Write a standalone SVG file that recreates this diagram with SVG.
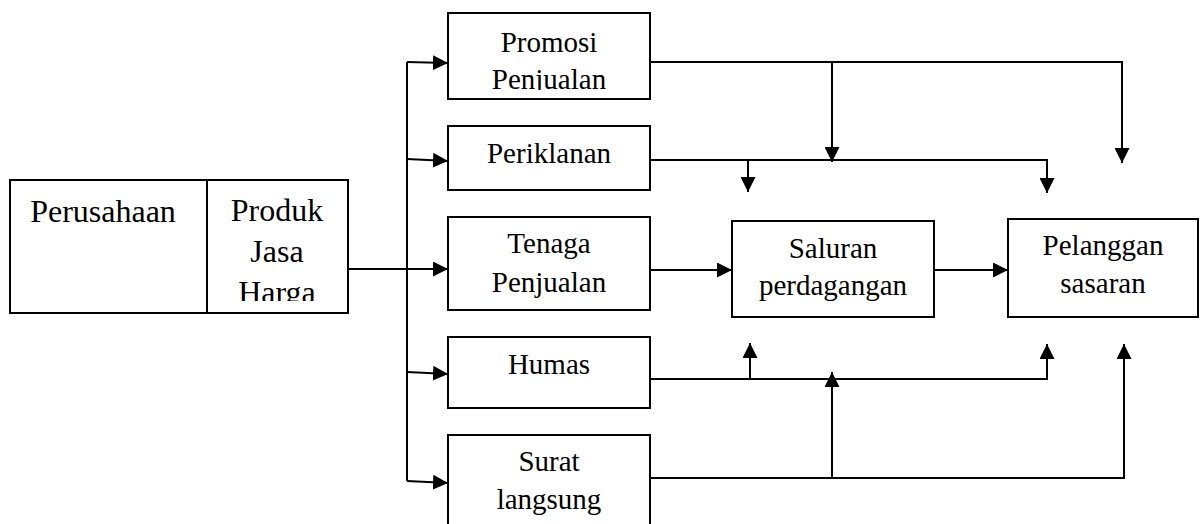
<svg xmlns="http://www.w3.org/2000/svg" width="1203" height="524" viewBox="0 0 1203 524">
<style>
.box{fill:#fff;stroke:#000;stroke-width:2}
.t{font-family:"Liberation Serif","Times New Roman",serif;font-size:29px;fill:#000;text-anchor:middle}
.tl{font-family:"Liberation Serif","Times New Roman",serif;font-size:32px;fill:#000;text-anchor:middle}
.ln{fill:none;stroke:#000;stroke-width:2}
</style>
<defs>
<marker id="ah" viewBox="0 0 10 10" refX="10" refY="5" markerWidth="7.5" markerHeight="7.5" orient="auto" markerUnits="strokeWidth">
<path d="M0,0 L10,5 L0,10 Z" fill="#000"/>
</marker>
<clipPath id="cp1"><rect x="448" y="13" width="202" height="77"/></clipPath>
<clipPath id="cp2"><rect x="207" y="180" width="141" height="121"/></clipPath>
</defs>
<g id="connectors">
<line class="ln" x1="407" y1="62" x2="407" y2="481"/>
<path class="ln" d="M407,62 L448,63" marker-end="url(#ah)"/>
<path class="ln" d="M407,159 L448,161" marker-end="url(#ah)"/>
<path class="ln" d="M348,269 L448,269" marker-end="url(#ah)"/>
<path class="ln" d="M407,372 L448,374" marker-end="url(#ah)"/>
<path class="ln" d="M407,481 L448,483" marker-end="url(#ah)"/>
<path class="ln" d="M650,62 L1122,62 L1122,163" marker-end="url(#ah)"/>
<path class="ln" d="M832,62 L832,162" marker-end="url(#ah)"/>
<path class="ln" d="M650,160 L1047,160 L1047,193" marker-end="url(#ah)"/>
<path class="ln" d="M748,160 L748,192" marker-end="url(#ah)"/>
<path class="ln" d="M650,270 L732,270" marker-end="url(#ah)"/>
<path class="ln" d="M934,270 L1008,270" marker-end="url(#ah)"/>
<path class="ln" d="M650,379 L1047,379 L1047,344" marker-end="url(#ah)"/>
<path class="ln" d="M750,379 L750,343" marker-end="url(#ah)"/>
<path class="ln" d="M650,478 L1124,478 L1124,344" marker-end="url(#ah)"/>
<path class="ln" d="M832,478 L832,372" marker-end="url(#ah)"/>
</g>
<g id="perusahaan">
<rect class="box" x="10" y="180" width="197" height="133"/>
<text class="tl" x="103" y="222">Perusahaan</text>
</g>
<g id="produk">
<rect class="box" x="207" y="180" width="141" height="133"/>
<g clip-path="url(#cp2)">
<text class="tl" x="277" y="221">Produk</text>
<text class="tl" x="277" y="262">Jasa</text>
<text class="tl" x="277" y="303">Harga</text>
</g>
</g>
<g id="promosi">
<rect class="box" x="448" y="13" width="202" height="86"/>
<g clip-path="url(#cp1)">
<text class="t" x="549" y="52">Promosi</text>
<text class="t" x="549" y="89">Penjualan</text>
</g>
</g>
<g id="periklanan">
<rect class="box" x="448" y="126" width="202" height="64"/>
<text class="t" x="549" y="163">Periklanan</text>
</g>
<g id="tenaga">
<rect class="box" x="448" y="217" width="202" height="93"/>
<text class="t" x="549" y="253">Tenaga</text>
<text class="t" x="549" y="292">Penjualan</text>
</g>
<g id="humas">
<rect class="box" x="448" y="337" width="202" height="71"/>
<text class="t" x="549" y="374">Humas</text>
</g>
<g id="surat">
<rect class="box" x="448" y="435" width="202" height="100"/>
<text class="t" x="549" y="471">Surat</text>
<text class="t" x="549" y="509">langsung</text>
</g>
<g id="saluran">
<rect class="box" x="732" y="221" width="202" height="96"/>
<text class="t" x="833" y="258">Saluran</text>
<text class="t" x="833" y="295">perdagangan</text>
</g>
<g id="pelanggan">
<rect class="box" x="1008" y="219" width="190" height="98"/>
<text class="t" x="1103" y="255">Pelanggan</text>
<text class="t" x="1103" y="293">sasaran</text>
</g>
</svg>
